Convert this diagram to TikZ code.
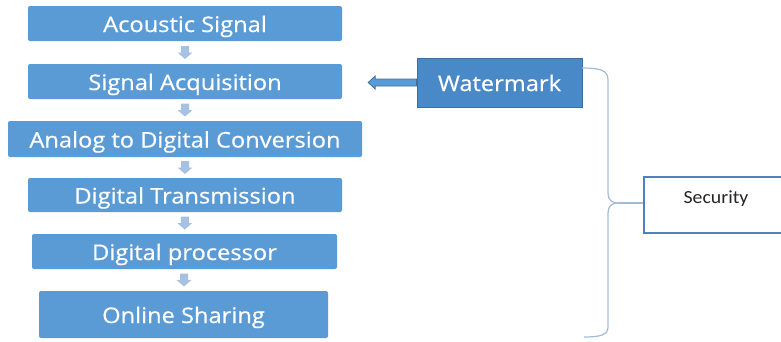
\documentclass[tikz,border=0pt]{standalone}
\usepackage{fontspec}
\setmainfont[FakeStretch=1.1,FakeBold=0.6]{Open Sans}
\newfontfamily\secfont[FakeStretch=1.07]{Carlito}
\usetikzlibrary{calc}
\definecolor{boxblue}{HTML}{5B9BD5}
\definecolor{wmblue}{HTML}{4A89C8}
\definecolor{wmedge}{HTML}{3D6F9F}
\definecolor{arrowlight}{HTML}{A7C1E3}
\definecolor{bracecol}{HTML}{A3BAD8}
\definecolor{secedge}{HTML}{4F81BD}
\definecolor{sectext}{HTML}{262626}
\tikzset{
  flowbox/.style={rectangle, rounded corners=2pt, fill=boxblue, text=white,
    font=\fontsize{21.5}{24}\selectfont, inner sep=0pt, text height=17pt, text depth=0pt},
  wmbox/.style={rectangle, fill=wmblue, draw=wmedge, line width=1pt, text=white,
    font=\fontsize{21.5}{24}\selectfont, inner sep=0pt, minimum width=165pt, minimum height=49pt,
    text height=17pt, text depth=0pt},
  secbox/.style={rectangle, draw=secedge, line width=1.3pt, fill=white, text=sectext,
    font=\secfont\fontsize{18.5}{20}\selectfont, inner sep=0pt,
    minimum width=144pt, minimum height=56pt, text height=12pt, text depth=16pt},
  bracestyle/.style={draw=bracecol, line width=1.2pt}
}
\newcommand\flowarrow[2]{%
  \path ($(#1.south)!0.5!(#2.north)$) coordinate (m);
  \fill[arrowlight] ([shift={(-4,-6.5)}]m) -- ([shift={(4,-6.5)}]m) -- ([shift={(4,0)}]m)
    -- ([shift={(7.5,0)}]m) -- ([shift={(0,6.5)}]m) -- ([shift={(-7.5,0)}]m) -- ([shift={(-4,0)}]m) -- cycle;}
\begin{document}
\begin{tikzpicture}[x=1pt,y=-1pt]
\useasboundingbox (0,0) rectangle (781,341);
\clip (0,0) rectangle (781,341);
\fill[white] (0,0) rectangle (781,341);
\node[flowbox, minimum width=314pt, minimum height=35pt] (as) at (185,23.5) {Acoustic Signal};
\node[flowbox, minimum width=314pt, minimum height=35pt] (sa) at (185,81.5) {Signal Acquisition};
\node[flowbox, minimum width=354pt, minimum height=36pt] (ad) at (185,139) {Analog to Digital Conversion};
\node[flowbox, minimum width=314pt, minimum height=34pt] (dt) at (185,195) {Digital Transmission};
\node[flowbox, minimum width=305pt, minimum height=35pt] (dp) at (184.5,251.5) {Digital processor};
\node[flowbox, minimum width=289pt, minimum height=47pt] (os) at (183.5,314.5) {Online Sharing};
\flowarrow{as}{sa}
\flowarrow{sa}{ad}
\flowarrow{ad}{dt}
\flowarrow{dt}{dp}
\flowarrow{dp}{os}
\node[wmbox] (wm) at (499.5,82.5) {Watermark};
\coordinate (wtip) at ([xshift=26pt]sa.east |- wm.west);
\filldraw[fill=boxblue, draw=wmedge, line width=0.8pt]
  (wtip) -- ([shift={(7,-6.5)}]wtip) -- ([shift={(7,-3.5)}]wtip) -- ([shift={(0,-3.5)}]wm.west)
  -- ([shift={(0,3.5)}]wm.west) -- ([shift={(7,3.5)}]wtip) -- ([shift={(7,6.5)}]wtip) -- cycle;
\node[secbox] (sec) at (716,205) {Security};
\coordinate (btop) at (582,68);
\coordinate (bbot) at (584,337);
\coordinate (btip) at (618,203);
\draw[bracestyle] (btop) .. controls (600,68) and (608,70) .. (608,80) -- (608,193)
  .. controls (608,200) and (612,203) .. (btip)
  .. controls (612,203) and (608,206) .. (608,213) -- (608,327)
  .. controls (608,335) and (600,337) .. (bbot);
\draw[bracestyle] (btip) -- (btip -| sec.west);
\end{tikzpicture}
\end{document}
